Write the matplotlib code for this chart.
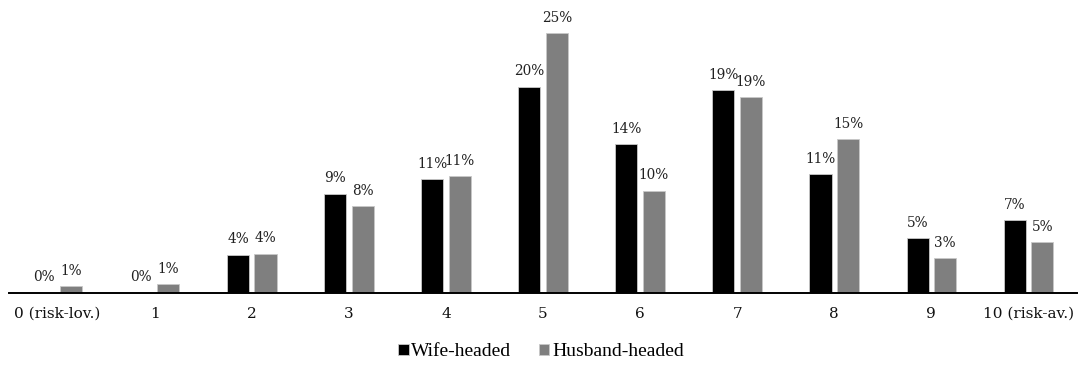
import numpy as np
import matplotlib
matplotlib.use('Agg')
import matplotlib.pyplot as plt

categories = ['0 (risk-lov.)', '1', '2', '3', '4', '5', '6', '7', '8', '9', '10 (risk-av.)']
wife = [0.0, 0.0, 3.6, 9.4, 10.8, 19.6, 14.1, 19.3, 11.3, 5.2, 6.9]
husband = [0.6, 0.8, 3.7, 8.2, 11.1, 24.7, 9.7, 18.6, 14.6, 3.3, 4.8]

W, H, DPI = 1082, 365, 100
fig = plt.figure(figsize=(W / DPI, H / DPI), dpi=DPI)
ax = fig.add_axes([9 / W, 72.5 / H, 1068 / W, 287.5 / H])

x = np.arange(len(categories))
bw = 0.227
off = 0.142

b1 = ax.bar(x - off, wife, bw, color='black', edgecolor='#c8c8c8', linewidth=0.6,
            label='Wife-headed', zorder=2)
b2 = ax.bar(x + off, husband, bw, color='#7f7f7f', edgecolor='#c8c8c8', linewidth=0.6,
            label='Husband-headed', zorder=2)

# percentage labels over every bar
for xs, vals in ((x - off, wife), (x + off, husband)):
    for xi, v in zip(xs, vals):
        ax.annotate(f'{v:.0f}%', (xi, v), xytext=(0, 6), textcoords='offset points',
                    ha='center', va='bottom', fontsize=9.8, family='DejaVu Serif',
                    color='#222222')

ax.set_xlim(-0.5, len(categories) - 0.5)
ax.set_ylim(0, 287.5 / 10.5)
ax.set_xticks(x)
ax.set_xticklabels(categories, fontsize=11, family='DejaVu Serif', color='#111111')
ax.tick_params(axis='x', length=0, pad=10.5)
ax.set_yticks([])
for s in ('top', 'left', 'right'):
    ax.spines[s].set_visible(False)
ax.spines['bottom'].set_linewidth(1.4)
ax.spines['bottom'].set_color('black')
ax.patch.set_alpha(0)

fig.legend(handles=[b1, b2], loc='center', bbox_to_anchor=(0.5, 13 / H), ncol=2,
           frameon=False, prop={'family': 'Liberation Serif', 'size': 14},
           handlelength=0.55, handleheight=0.55, handletextpad=0.15,
           columnspacing=1.4)

fig.savefig('out.png', dpi=DPI)
